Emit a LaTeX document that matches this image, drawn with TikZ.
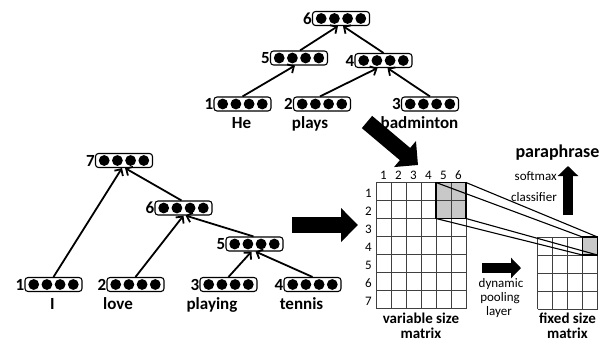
\documentclass[tikz,border=0pt]{standalone}
\usepackage{fontspec}
\setmainfont{Carlito}
\usetikzlibrary{arrows.meta,calc}
\definecolor{cellgray}{HTML}{C8C8C8}
\definecolor{gridc}{HTML}{404040}
\begin{document}
\begin{tikzpicture}[x=1pt,y=-1pt,
  vec/.style={draw, line width=1.1pt, rounded corners=3pt, minimum width=57pt, minimum height=14pt, inner sep=0pt,
    path picture={\foreach \i in {-1.5,-0.5,0.5,1.5} \fill ([xshift=\i*13.2pt]path picture bounding box.center) circle[radius=5.4pt];},
    label distance=1.5pt},
  lbl/.style={font=\bfseries\fontsize{17}{17}\selectfont, inner sep=0pt},
  word/.style={font=\bfseries\fontsize{17}{17}\selectfont, inner sep=0pt, anchor=base},
  captext/.style={font=\bfseries\fontsize{15}{15}\selectfont, inner sep=0pt, anchor=base},
  small/.style={font=\fontsize{13}{13}\selectfont, inner sep=0pt, anchor=base},
  idx/.style={font=\fontsize{13}{13}\selectfont, inner sep=0pt},
  arr/.style={line width=1.8pt, -{Straight Barb[length=5pt,width=10pt]}},
  fat/.style={line width=16pt, -{Triangle[length=17pt,width=33pt]}},
  fatsmall/.style={line width=10pt, -{Triangle[length=10pt,width=20pt]}},
  gridline/.style={gridc, line width=0.8pt},
  frust/.style={line width=1.1pt}
]
\useasboundingbox (0,0) rectangle (605,341);

% ---------- top tree ----------
\node[vec, label={[lbl]left:6}] (t6) at (341,18.5) {};
\node[vec, label={[lbl]left:5}] (t5) at (299,58) {};
\node[vec, label={[lbl]left:4}] (t4) at (383.5,60.5) {};
\node[vec, label={[lbl]left:1}] (t1) at (242.5,104) {};
\node[vec, label={[lbl]left:2}] (t2) at (322,104) {};
\node[vec, label={[lbl]left:3}] (t3) at (430,104) {};
\node[word] (tw1) at (241.5,128) {He};
\node[word] (tw2) at (310,128) {plays};
\node[word] (tw3) at (419.5,128) {badminton};

\draw[arr] (t1.north) -- ([xshift=-4pt]t5.south);
\draw[arr] ([xshift=1pt]t5.north) -- ([xshift=-3pt]t6.south);
\draw[arr] (t4.north) -- ([xshift=2pt]t6.south);
\draw[arr] ([xshift=-2pt]t2.north) -- ([xshift=-6pt]t4.south);
\draw[arr] (t3.north) -- ([xshift=4pt]t4.south);

% ---------- bottom tree ----------
\node[vec, label={[lbl]left:7}] (b7) at (124,160.5) {};
\node[vec, label={[lbl]left:6}] (b6) at (183.5,208) {};
\node[vec, label={[lbl]left:5}] (b5) at (254.5,244) {};
\node[vec, label={[lbl]left:1}] (b1) at (53.5,284.5) {};
\node[vec, label={[lbl]left:2}] (b2) at (135.5,284.5) {};
\node[vec, label={[lbl]left:3}] (b3) at (228.5,284.5) {};
\node[vec, label={[lbl]left:4}] (b4) at (312.5,284.5) {};
\node[word] (bw1) at (52.5,309) {I};
\node[word] (bw2) at (118,309) {love};
\node[word] (bw3) at (212,309) {playing};
\node[word] (bw4) at (301.5,309) {tennis};

\draw[arr] (b1.north) -- ([xshift=-2pt]b7.south);
\draw[arr] ([xshift=-2pt]b6.north) -- ([xshift=1pt]b7.south);
\draw[arr] (b2.north) -- (b6.south);
\draw[arr] ([xshift=-1pt]b5.north) -- ([xshift=2pt]b6.south);
\draw[arr] (b3.north) -- ([xshift=-3pt]b5.south);
\draw[arr] (b4.north) -- ([xshift=1pt]b5.south);

% ---------- fat arrows ----------
\coordinate (fa1s) at (367,122);
\coordinate (fa1e) at (418,165);
\draw[fat] (fa1s) -- (fa1e);
\coordinate (fa2s) at (292,225);
\coordinate (fa2e) at (358,225);
\draw[fat] (fa2s) -- (fa2e);
\coordinate (fa3s) at (482,268);
\coordinate (fa3e) at (521,268);
\draw[fatsmall] (fa3s) -- (fa3e);
\coordinate (fa4s) at (568,215);
\coordinate (fa4e) at (568,166);
\draw[fatsmall] (fa4s) -- (fa4e);

% ---------- variable size matrix ----------
\fill[cellgray] (436,182.5) rectangle (466,218.5);
\foreach \c in {0,...,6} \draw[gridline] (376+15*\c,182.5) -- (376+15*\c,308.5);
\foreach \r in {0,...,7} \draw[gridline] (376,182.5+18*\r) -- (466,182.5+18*\r);
\draw[line width=1.2pt] (436,182.5) rectangle (466,218.5);
\foreach \c in {1,...,6} \node[idx] at (368.5+15*\c,175) {\c};
\foreach \r in {1,...,7} \node[idx] at (368.5,175.5+18*\r) {\r};
\node[captext] (vs1) at (421,323.5) {variable size};
\node[captext] (vs2) at (421,338) {matrix};

% ---------- fixed size matrix ----------
\fill[cellgray] (582.5,237) rectangle (597.5,255);
\foreach \c in {0,...,4} \draw[gridline] (537.5+15*\c,237) -- (537.5+15*\c,309);
\foreach \r in {0,...,4} \draw[gridline] (537.5,237+18*\r) -- (597.5,237+18*\r);
\draw[line width=1.2pt] (582.5,237) rectangle (597.5,255);
\node[captext] (fs1) at (567.5,323.5) {fixed size};
\node[captext] (fs2) at (567.5,338) {matrix};

% ---------- projection lines ----------
\coordinate (bTL) at (436,182.5);
\coordinate (bTR) at (466,182.5);
\coordinate (bBL) at (436,218.5);
\coordinate (bBR) at (466,218.5);
\coordinate (sTL) at (582.5,237);
\coordinate (sTR) at (597.5,237);
\coordinate (sBL) at (582.5,255);
\coordinate (sBR) at (597.5,255);
\draw[frust] (bTL) -- (sTL);
\draw[frust] (bTR) -- (sTR);
\draw[frust] (bBL) -- (sBL);
\draw[frust] (bBR) -- (sBR);

% ---------- texts ----------
\node[word, font=\bfseries\fontsize{18}{18}\selectfont] (para) at (557.5,157) {paraphrase};
\node[small, anchor=base east] (sm1) at (557,180) {softmax};
\node[small, anchor=base east] (sm2) at (557,201.5) {classifier};
\node[small] (dp1) at (501,287) {dynamic};
\node[small] (dp2) at (500,301) {pooling};
\node[small] (dp3) at (499,315) {layer};
\end{tikzpicture}
\end{document}
